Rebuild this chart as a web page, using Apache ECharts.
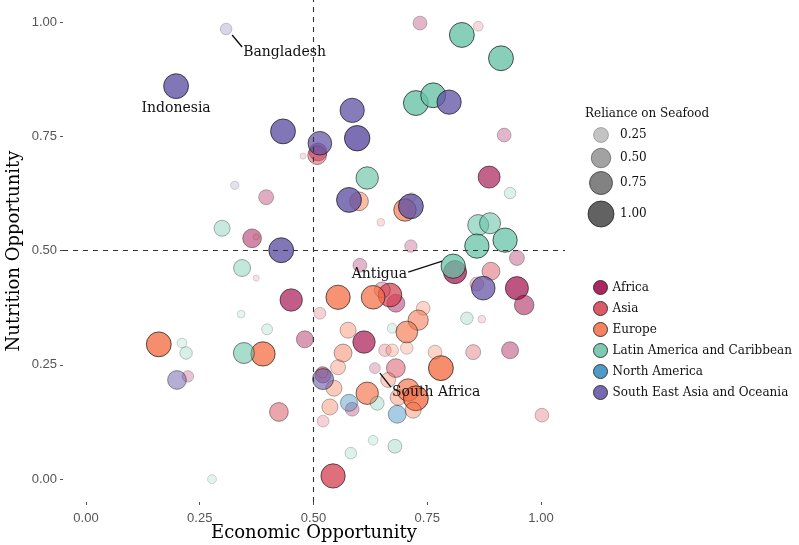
<!DOCTYPE html>
<html><head><meta charset="utf-8">
<script src="https://cdn.jsdelivr.net/npm/echarts@6/dist/echarts.min.js"></script>
<style>html,body{margin:0;padding:0;background:#fff}#c{width:799px;height:545px}</style>
</head><body><div id="c"></div>
<script>
const regions = ['Africa','Asia','Europe','Latin America and Caribbean','North America','South East Asia and Oceania'];
const regionColors = ['#9E0142','#D53E4F','#F46D43','#66C2A5','#3288BD','#5E4FA2'];

const africaX = [0.811,0.886,0.947,0.963,0.932,0.451,0.611,0.681,0.481,0.510,0.635,0.521,0.585,0.396,0.919,0.734,0.947,0.365,0.714,0.602,0.224];
const africaY = [0.453,0.661,0.418,0.381,0.282,0.392,0.300,0.385,0.306,0.716,0.243,0.228,0.153,0.617,0.753,0.998,0.484,0.527,0.510,0.468,0.225];
const africaR = [0.75,0.67,0.75,0.5,0.35,0.7,0.7,0.4,0.35,0.4,0.1,0.3,0.2,0.25,0.2,0.2,0.25,0.45,0.15,0.2,0.12];

const asiaX = [0.508,0.477,0.648,0.668,0.651,0.681,0.543,0.424,0.890,0.859,0.870,0.851,1.002,0.374,0.657,0.514,0.521,0.862,0.374];
const asiaY = [0.709,0.707,0.562,0.403,0.414,0.243,0.007,0.147,0.455,0.427,0.350,0.278,0.140,0.440,0.282,0.363,0.127,0.991,0.530];
const asiaR = [0.45,0.01,0.03,0.8,0.3,0.45,0.85,0.45,0.4,0.2,0.03,0.25,0.2,0.01,0.15,0.13,0.13,0.07,0.01];

const europeX = [0.554,0.631,0.600,0.701,0.716,0.160,0.389,0.780,0.767,0.741,0.730,0.705,0.576,0.565,0.673,0.705,0.554,0.519,0.618,0.536,0.686,0.708,0.725,0.719,0.664,0.545];
const europeY = [0.398,0.398,0.608,0.589,0.617,0.295,0.274,0.243,0.278,0.374,0.348,0.322,0.326,0.276,0.282,0.287,0.245,0.234,0.188,0.158,0.179,0.195,0.177,0.151,0.217,0.199];
const europeR = [0.85,0.8,0.45,0.7,0.05,0.9,0.85,0.9,0.2,0.2,0.55,0.65,0.3,0.4,0.15,0.15,0.25,0.12,0.7,0.3,0.3,0.7,0.9,0.3,0.25,0.3];

const latinX = [0.618,0.826,0.912,0.725,0.763,0.932,0.862,0.888,0.921,0.859,0.807,0.837,0.673,0.640,0.631,0.582,0.679,0.299,0.343,0.341,0.398,0.211,0.220,0.347,0.277];
const latinY = [0.659,0.972,0.921,0.823,0.840,0.626,0.556,0.560,0.523,0.510,0.466,0.352,0.330,0.166,0.085,0.057,0.072,0.549,0.462,0.361,0.328,0.298,0.276,0.276,0.000];
const latinR = [0.7,0.9,0.9,0.9,0.9,0.12,0.6,0.6,0.85,0.85,0.85,0.15,0.07,0.2,0.07,0.12,0.2,0.3,0.35,0.03,0.1,0.07,0.15,0.6,0.05];

const northAmX = [0.578,0.684];
const northAmY = [0.167,0.142];
const northAmR = [0.35,0.4];

const seAsiaX = [0.308,0.198,0.433,0.514,0.585,0.596,0.578,0.714,0.798,0.429,0.873,0.521,0.200,0.327];
const seAsiaY = [0.985,0.860,0.761,0.735,0.807,0.746,0.611,0.597,0.825,0.501,0.418,0.219,0.217,0.643];
const seAsiaR = [0.12,0.9,0.9,0.8,0.85,0.95,0.9,0.9,0.85,0.9,0.8,0.6,0.45,0.04];

const xTicks = [0, 0.25, 0.5, 0.75, 1];
const yTicks = [0, 0.25, 0.5, 0.75, 1];
const sizeLegendValues = [0.25, 0.5, 0.75, 1];
const labelNames = ['Bangladesh','Indonesia','Antigua','South Africa'];
const labelRegion = [5, 5, 3, 0];
const labelIndex = [0, 1, 10, 10];

const regionX = [africaX, asiaX, europeX, latinX, northAmX, seAsiaX];
const regionY = [africaY, asiaY, europeY, latinY, northAmY, seAsiaY];
const regionR = [africaR, asiaR, europeR, latinR, northAmR, seAsiaR];

const sizeOf = r => 4 + 22 * Math.sqrt(r);
const alphaOf = r => 0.15 + 0.7 * r;
const SERIF = "'DejaVu Serif', serif";
const SANS = "'Liberation Sans', Arial, sans-serif";

const series = regions.map((name, k) => ({
  type: 'scatter',
  name: name,
  z: 2,
  symbolSize: v => sizeOf(v[2]),
  itemStyle: { color: regionColors[k], borderColor: '#111', borderWidth: 0.9, opacity: 0.85 },
  data: regionX[k].map((x, i) => ({
    value: [x, regionY[k][i], regionR[k][i]],
    itemStyle: { opacity: alphaOf(regionR[k][i]) }
  }))
}));
series.push({
  type: 'scatter', name: 'refs', data: [], z: 5,
  markLine: {
    silent: true, symbol: ['none', 'none'], z: 5,
    label: { show: false },
    lineStyle: { type: [5, 5], color: '#333', width: 1.1 },
    data: [{ xAxis: 0.5 }, { yAxis: 0.5 }]
  }
});

const chart = echarts.init(document.getElementById('c'), null, { renderer: 'canvas' });
const fmt = v => v.toFixed(2);
chart.setOption({
  animation: false,
  backgroundColor: '#fff',
  grid: { left: 63, right: 234, top: 0, bottom: 43, containLabel: false, outerBoundsMode: 'none' },
  xAxis: {
    type: 'value', min: -0.0505, max: 1.0527,
    name: 'Economic Opportunity', nameLocation: 'middle', nameGap: 22, nameMoveOverlap: false,
    nameTextStyle: { fontFamily: SERIF, fontSize: 18, color: '#000' },
    axisLine: { show: false, onZero: false }, splitLine: { show: false },
    axisTick: { show: true, length: 3, lineStyle: { color: '#555' }, customValues: xTicks },
    axisLabel: { customValues: xTicks, formatter: fmt, margin: 10, fontFamily: SANS, fontSize: 13, color: '#555' }
  },
  yAxis: {
    type: 'value', min: -0.05, max: 1.0485,
    name: 'Nutrition Opportunity', nameLocation: 'middle', nameGap: 40, nameMoveOverlap: false,
    nameTextStyle: { fontFamily: SERIF, fontSize: 18, color: '#000' },
    axisLine: { show: false, onZero: false }, splitLine: { show: false },
    axisTick: { show: true, length: 3, lineStyle: { color: '#555' }, customValues: yTicks },
    axisLabel: { customValues: yTicks, formatter: fmt, margin: 6, fontFamily: SANS, fontSize: 13, color: '#555' }
  },
  legend: {
    orient: 'vertical', left: 588, top: 275,
    itemWidth: 14, itemHeight: 14, itemGap: 6, icon: 'circle',
    selectedMode: false, data: regions,
    itemStyle: { borderColor: '#222', borderWidth: 1, opacity: 0.85 },
    textStyle: { fontFamily: SERIF, fontSize: 12, color: '#111' }
  },
  series: series
});

// size legend + annotations
const legendY = [135, 158, 183, 214];
const graphics = [{
  type: 'text', left: 585, top: 108,
  style: { text: 'Reliance on Seafood', font: "12px " + SERIF, fill: '#111' }
}];
sizeLegendValues.forEach((v, i) => {
  graphics.push({
    type: 'circle', shape: { cx: 601, cy: legendY[i], r: sizeOf(v) / 2 },
    style: { fill: 'rgba(70,70,70,' + alphaOf(v).toFixed(3) + ')', stroke: 'rgba(30,30,30,' + alphaOf(v).toFixed(3) + ')', lineWidth: 0.9 }
  });
  graphics.push({
    type: 'text', x: 620, y: legendY[i],
    style: { text: v.toFixed(2), font: "12px " + SERIF, fill: '#111', textVerticalAlign: 'middle' }
  });
});
const textOff = [[17, 23, 'left'], [0, 22, 'center'], [-46, 8, 'right'], [17, 24, 'left']];
const lineOff = [[6, 6, 16, 18], null, [-11, -5, -45, 6], [5, 5, 16, 19]];
labelNames.forEach((name, j) => {
  const k = labelRegion[j], i = labelIndex[j];
  const p = chart.convertToPixel({ gridIndex: 0 }, [regionX[k][i], regionY[k][i]]);
  const t = textOff[j];
  graphics.push({
    type: 'text', x: p[0] + t[0], y: p[1] + t[1], z: 20,
    style: { text: name, font: "14px " + SERIF, fill: '#111', textAlign: t[2], textVerticalAlign: 'middle' }
  });
  const l = lineOff[j];
  if (l) {
    graphics.push({
      type: 'line', z: 20,
      shape: { x1: p[0] + l[0], y1: p[1] + l[1], x2: p[0] + l[2], y2: p[1] + l[3] },
      style: { stroke: '#111', lineWidth: 1.4 }
    });
  }
});
chart.setOption({ graphic: graphics });
</script>
</body></html>
